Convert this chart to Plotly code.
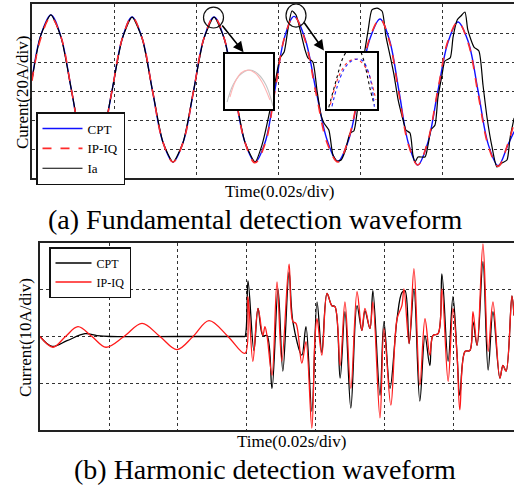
import plotly.graph_objects as go

# ---------------- data: top panel (time in ms, current in A) ----------------
CPT_T = [0, 2.1, 4.6, 7.1, 9.6, 12.1, 14.6, 17.0, 19.5, 22.0, 24.4, 26.9, 29.4, 31.9, 34.4,
         36.9, 39.4, 41.9, 44.4, 46.9, 49.4, 51.9, 54.4, 56.9, 59.2, 61.6, 63.9, 66.6, 69.3,
         72.0, 74.6, 77.2, 79.8, 82.3, 84.9, 87.2, 89.5, 91.8, 94.1, 96.5, 99.0, 101.5, 103.9,
         106.4, 108.8, 111.3, 113.7, 116.1, 117.6]
CPT_I = [8, 38, 52.5, 37, 1, -35, -49.5, -35, 0, 36, 51, 36, 0, -35, -49, -35, 0, 36, 51, 36,
         0, -35, -49, -35, 0, 37, 51.5, 36, 0, -34, -48.5, -34, 0, 35, 49.7, 35, 0, -36, -51,
         -36, 0, 34, 47.6, 34, 0, -37, -51.5, -37, -28]
IPIQ_I = [7, 36, 51, 37, 1, -35, -49.5, -35, 0, 36, 51, 36, 0, -35, -49, -35, 0, 36, 51, 36,
          0, -35, -49.5, -36, -1, 37, 51.5, 35, -2, -36, -49, -33, 1, 36, 49.7, 34, -2, -37,
          -51, -35, 1, 35, 47.6, 33, -2, -38, -52, -36, -22]
IA_TAIL_T = [56.1, 58.05, 59.5, 60.5, 61.5, 62.4, 63.4, 64.4, 65.4, 66.6, 67.3, 68.5, 69.5,
             70.5, 71.2, 72.4, 73.4, 74.4, 75.4, 76.3, 77.6, 78.5, 79.3, 80.0, 81.0, 82.0,
             82.9, 84.15, 85.4, 86.3, 87.3, 88.3, 89.3, 90.5, 91.2, 92.2, 92.9, 93.4, 94.15,
             95.85, 96.6, 97.3, 98.3, 99.0, 100.0, 100.7, 102.0, 102.7, 103.7, 104.6, 105.6,
             106.3, 107.8, 109.0, 110.0, 111.0, 112.2, 113.4, 114.6, 115.85, 116.6, 117.6]
IA_TAIL_I = [-37.2, -13.1, 9.0, 22.8, 26.9, 42.1, 55.2, 52.4, 42.1, 28.3, 22.8, 20.0, 0.7,
             -16.6, -22.1, -26.9, -44.1, -48.3, -47.6, -42.1, -29.0, -27.6, -14.5, 7.6, 24.8,
             42.1, 55.9, 57.2, 55.0, 38.0, 24.8, 11.0, -6.2, -20.0, -26.9, -29.0, -44.1, -49.0,
             -45.5, -45.5, -37.2, -26.9, -23.4, -4.8, 11.0, 20.7, 22.8, 37.2, 49.0, 51.7, 54.5,
             42.1, 30.3, 27.6, 4.1, -18.6, -38.6, -52.4, -49.7, -47.6, -32.4, -18.6]
IA_T = CPT_T[:23] + IA_TAIL_T
IA_I = CPT_I[:23] + IA_TAIL_I

# inset 1 (zoom of third peak)
IN1_RED_T = [43.21, 43.53, 43.9, 44.34, 44.78, 45.21, 45.71]
IN1_RED_I = [48.2, 49.7, 50.6, 50.9, 50.6, 49.7, 47.9]
IN1_GRY_T = [43.03, 43.4, 43.9, 44.46, 44.96, 45.46, 45.9]
IN1_GRY_I = [47.7, 49.4, 50.5, 50.9, 50.5, 49.4, 47.3]
# inset 2 (zoom of fourth peak)
IN2_IA_T = [62.51, 63.03, 63.34, 63.65, 64.03, 64.4, 64.71, 64.96, 65.11, 65.36]
IN2_IA_I = [46.67, 49.7, 51.4, 52.3, 52.8, 52.5, 51.3, 49.5, 48.4, 46.9]
IN2_RED_T = [62.61, 62.9, 63.23, 63.65, 64.07, 64.46, 64.9, 65.21, 65.46]
IN2_RED_I = [46.93, 48.7, 50.1, 51.1, 51.5, 51.3, 50.4, 49.0, 47.4]
IN2_BLU_T = [62.71, 63.03, 63.44, 63.84, 64.28, 64.65, 65.01, 65.21, 65.36]
IN2_BLU_I = [46.77, 48.7, 50.4, 51.2, 51.5, 51.3, 50.1, 48.7, 46.73]

# ---------------- data: bottom panel ----------------
HB_IPIQ_T = [0, 3.77, 7.39, 11.01, 15.07, 19.13, 24.35, 29.57, 34.78, 39.71, 44.35, 48.99,
             54.49, 59.42, 60.3, 61.7, 63.2, 64.6, 65.2, 65.8, 67.25, 68.7, 70.1, 72.2, 73.3,
             74.2, 75.9, 77.1, 78.8, 79.7, 80.3, 81.7, 83.2, 84.6, 85.5, 87.0, 88.4, 90.1,
             91.9, 93.3, 94.2, 95.65, 96.5, 98.55, 99.7, 101.7, 103.5, 104.9, 105.5, 107.0,
             108.4, 110.1, 111.6, 113.0, 113.9, 115.4, 116.5, 118.3, 119.7, 120.9, 121.7,
             123.2, 124.6, 125.5, 126.7, 128.4, 129.9, 131.3, 133.3, 134.2, 135.1, 136.8, 137.4]
HB_IPIQ_I = [0, -2.3, 0, 2.1, 0, -2.3, 0, 2.8, 0, -2.8, 0, 3.4, 0, -3.6, 8.5, -5.3, 6.0, 0.2,
             2.1, 0.2, -8.3, 11.7, -5.3, 15.5, 3.2, 2.8, -5.7, -1.1, -19.6, -0.4, 3.8, -4.0,
             9.2, 6.6, 6.4, -6.2, 7.4, -11.1, 9.6, 1.3, 6.0, 1.7, 7.4, -17.4, 1.7, -14.7, 3.8,
             6.6, 10.2, -1.5, 14.5, -10.4, 3.8, -4.0, 0.2, 0.6, 10.2, -9.6, 6.0, -4.0, -15.7,
             -3.2, -3.0, 5.3, -1.9, 19.8, -3.2, 7.4, -8.9, -6.2, -7.4, 8.7, 4.5]
HB_CPT_T = [0, 3.48, 7.83, 13.04, 16.5, 20.3, 40.0, 58.9, 59.4, 60.3, 62.0, 63.2, 64.6, 65.8,
            67.25, 69.0, 70.4, 72.2, 73.3, 75.9, 77.1, 78.8, 80.3, 81.7, 83.2, 84.6, 85.5,
            87.0, 88.4, 90.1, 91.9, 93.3, 94.2, 95.65, 96.5, 98.55, 99.7, 101.45, 103.5,
            104.9, 105.8, 107.0, 108.4, 110.1, 111.6, 113.0, 113.9, 115.4, 116.5, 118.3,
            119.7, 120.9, 121.7, 123.2, 124.6, 125.5, 126.7, 128.4, 129.9, 131.3, 133.3,
            134.2, 135.1, 136.8, 137.4]
HB_CPT_I = [0, -2.1, -0.9, 0.6, 0.2, 0, 0, 0, 0, 11.9, -3.0, 6.0, 0.2, 0.2, -11.1, 10.2,
            -7.4, 13.8, 3.2, -4.0, 2.1, -16.0, 7.4, -3.4, 9.2, 6.6, 6.4, -8.9, 5.3, -15.3,
            6.6, 1.3, 5.5, 1.7, 9.8, -12.6, 3.2, -11.1, 3.8, 9.4, 9.8, -1.5, 10.2, -13.8, 0.2,
            -6.2, 0.2, 0.6, 13.4, -5.3, 8.5, -4.0, -12.6, -3.2, -3.0, 3.2, -1.9, 16.0, -7.2,
            5.3, -8.9, -6.2, -7.4, 8.7, 4.5]

W, H = 514, 491
FONT = "Liberation Serif"


def px(x):
    return x / W


def py(y):
    return 1 - y / H


fig = go.Figure()

# top panel
fig.add_trace(go.Scatter(x=CPT_T, y=CPT_I, name="CPT", mode="lines", legendrank=1,
                         line=dict(color="#1010ff", width=1.4, shape="spline")))
fig.add_trace(go.Scatter(x=IA_T, y=IA_I, name="Ia", mode="lines", legendrank=3,
                         line=dict(color="#000000", width=1.2, shape="spline", smoothing=0.6)))
fig.add_trace(go.Scatter(x=CPT_T, y=IPIQ_I, name="IP-IQ", mode="lines", legendrank=2,
                         line=dict(color="#ff2a2a", width=1.6, dash="dash", shape="spline")))

# insets
fig.add_trace(go.Scatter(x=IN1_GRY_T, y=IN1_GRY_I, xaxis="x3", yaxis="y3", mode="lines",
                         showlegend=False, line=dict(color="#c4c4c4", width=1.1, shape="spline")))
fig.add_trace(go.Scatter(x=IN1_RED_T, y=IN1_RED_I, xaxis="x3", yaxis="y3", mode="lines",
                         showlegend=False, line=dict(color="#ffb4b4", width=1.1, shape="spline")))
fig.add_trace(go.Scatter(x=IN2_IA_T, y=IN2_IA_I, xaxis="x4", yaxis="y4", mode="lines",
                         showlegend=False,
                         line=dict(color="#000000", width=1.1, dash="dot", shape="spline")))
fig.add_trace(go.Scatter(x=IN2_RED_T, y=IN2_RED_I, xaxis="x4", yaxis="y4", mode="lines",
                         showlegend=False,
                         line=dict(color="#ff3030", width=1.1, dash="dot", shape="spline")))
fig.add_trace(go.Scatter(x=IN2_BLU_T, y=IN2_BLU_I, xaxis="x4", yaxis="y4", mode="lines",
                         showlegend=False,
                         line=dict(color="#2020ff", width=1.1, dash="dot", shape="spline")))

# bottom panel
fig.add_trace(go.Scatter(x=HB_CPT_T, y=HB_CPT_I, name="CPT", mode="lines", xaxis="x2",
                         yaxis="y2", legend="legend2",
                         line=dict(color="#000000", width=1.3, shape="spline")))
fig.add_trace(go.Scatter(x=HB_IPIQ_T, y=HB_IPIQ_I, name="IP-IQ", mode="lines", xaxis="x2",
                         yaxis="y2", legend="legend2",
                         line=dict(color="#ff1a1a", width=1.3, shape="spline")))

grid = dict(showgrid=True, griddash="dot", gridcolor="#333333", gridwidth=1,
            zeroline=False, showticklabels=False, ticks="", showline=True,
            linecolor="#222222", linewidth=1.5)
inset = dict(showgrid=False, zeroline=False, showticklabels=False, ticks="", showline=True,
             mirror=True, linecolor="#000000", linewidth=1.5)

fig.update_layout(
    width=W, height=H, margin=dict(l=0, r=0, t=0, b=0),
    paper_bgcolor="white", plot_bgcolor="white",
    font=dict(family=FONT, color="black"),
    xaxis=dict(domain=[px(32), 1], range=[0, 117.56], tick0=0, dtick=20, mirror=True,
               anchor="y", **grid),
    yaxis=dict(domain=[py(178), py(4)], range=[-60, 60], tick0=0, dtick=20, anchor="x",
               **grid),
    xaxis2=dict(domain=[px(40), 1], range=[0, 137.4], tick0=0, dtick=20, mirror=True,
                anchor="y2", **grid),
    yaxis2=dict(domain=[py(430), py(243)], range=[-20, 20], tick0=0, dtick=10, anchor="x2",
                **grid),
    xaxis3=dict(domain=[px(225), px(273)], range=[42.9, 45.9], anchor="y3", **inset),
    yaxis3=dict(domain=[py(109), py(54)], range=[47.0, 52.5], anchor="x3", **inset),
    xaxis4=dict(domain=[px(327), px(377)], range=[62.4, 65.525], anchor="y4", **inset),
    yaxis4=dict(domain=[py(109), py(53)], range=[46.5, 52.1], anchor="x4", **inset),
    legend=dict(x=px(36), y=py(112), xanchor="left", yanchor="top", bgcolor="white",
                bordercolor="#111111", borderwidth=1.5, font=dict(family=FONT, size=13),
                itemwidth=40, tracegroupgap=0),
    legend2=dict(x=px(49), y=py(247), xanchor="left", yanchor="top", bgcolor="white",
                 bordercolor="#111111", borderwidth=1.5, font=dict(family=FONT, size=12),
                 itemwidth=36, tracegroupgap=0),
    showlegend=True,
)

# circles around zoomed peaks
fig.add_shape(type="circle", xref="x", yref="y", x0=41.83, x1=46.71, y0=43.45, y1=57.9,
              line=dict(color="#111111", width=1.2))
fig.add_shape(type="circle", xref="x", yref="y", x0=61.95, x1=66.83, y0=44.1, y1=60.0,
              line=dict(color="#111111", width=1.2))

# arrows from circles to insets
for (hx, hy, tx, ty) in [(51.6, 26.8, 46.1, 46.2), (71.2, 28.0, 66.1, 48.3)]:
    fig.add_annotation(x=hx, y=hy, ax=tx, ay=ty, xref="x", yref="y", axref="x", ayref="y",
                       text="", showarrow=True, arrowhead=2, arrowsize=1.3, arrowwidth=1.6,
                       arrowcolor="#000000")

texts = [
    ("Curent(20A/div)", 22, 93, 17, -90),
    ("Time(0.02s/div)", 279, 191, 17, 0),
    ("(a) Fundamental detection waveform", 255, 219, 28, 0),
    ("Current(10A/div)", 25, 338, 17, -90),
    ("Time(0.02s/div)", 291, 441, 17, 0),
    ("(b) Harmonic detection waveform", 265, 469, 28, 0),
]
for t, x, y, s, a in texts:
    fig.add_annotation(text=t, x=px(x), y=py(y), xref="paper", yref="paper",
                       xanchor="center", yanchor="middle", showarrow=False, textangle=a,
                       font=dict(family=FONT, size=s, color="black"))

fig.write_html("out.html", config={"displayModeBar": False},
               post_script="document.body.style.margin='0';document.body.style.overflow='hidden';")
